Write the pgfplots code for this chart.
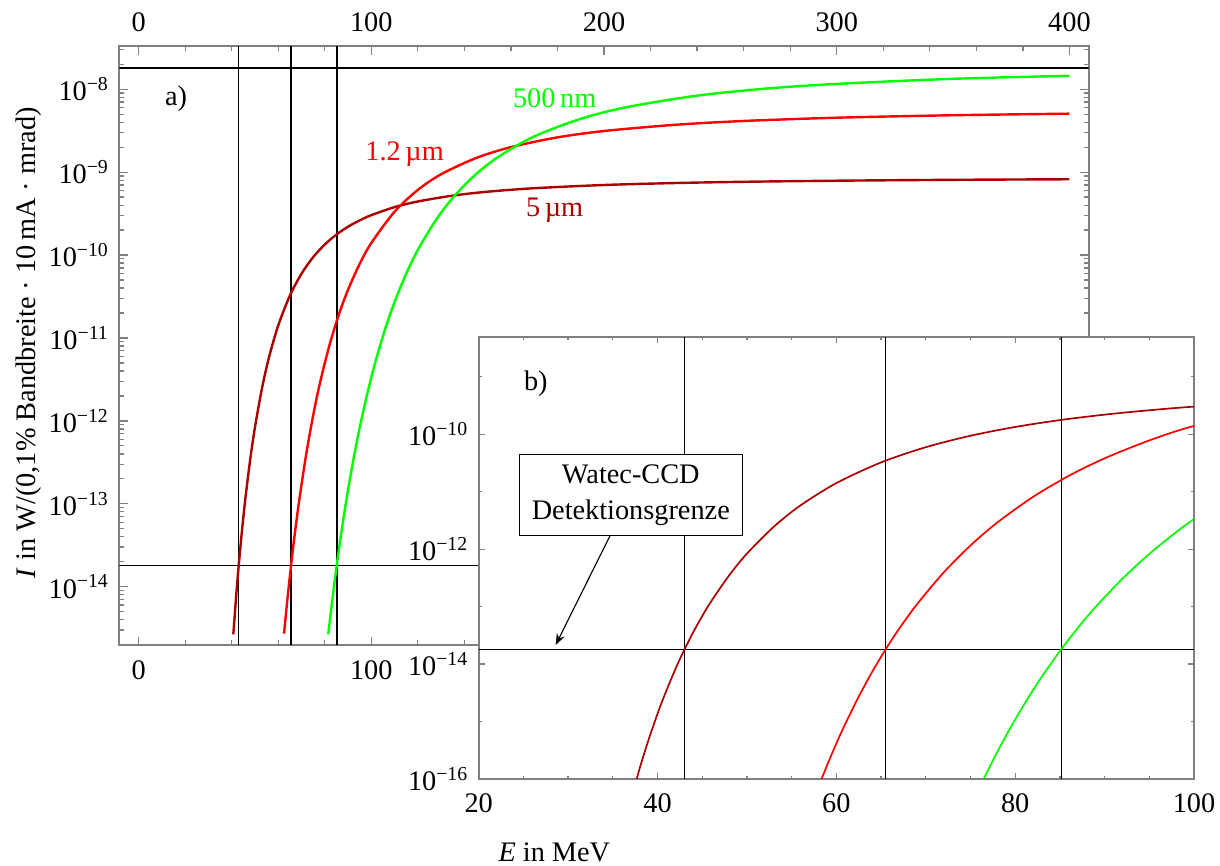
\documentclass[border=0pt]{standalone}
\usepackage{fontspec}
\setmainfont{Liberation Serif}
\usepackage{pgfplots}
\usepackage{pgfplotstable}
\pgfplotsset{compat=1.18}
\usetikzlibrary{arrows.meta}

\definecolor{dkred}{rgb}{0.667,0,0}
\definecolor{lgreen}{rgb}{0,1,0}
\definecolor{framegray}{rgb}{0.5,0.5,0.5}

% 5 um
\pgfplotstableread{
E I
37 4.230e-17
38 1.524e-16
39 4.829e-16
40 1.366e-15
40.7 2.664e-15
42 8.21e-15
43 1.780e-14
44 3.606e-14
45 6.859e-14
46 1.236e-13
48 3.488e-13
50 8.373e-13
53 2.458e-12
56 5.794e-12
60 1.414e-11
65 3.238e-11
70 5.959e-11
75 9.430e-11
80 1.341e-10
85 1.766e-10
90 2.198e-10
95 2.619e-10
100 3.030e-10
110 3.787e-10
120 4.430e-10
135 5.211e-10
150 5.813e-10
170 6.400e-10
200 7.000e-10
230 7.384e-10
260 7.650e-10
300 7.886e-10
350 8.081e-10
400 8.207e-10
}\tabfive

% 1.2 um
\pgfplotstableread{
E I
57 2.764e-17
58 7.266e-17
59 1.790e-16
60 4.157e-16
61 9.138e-16
62.5 2.714e-15
63 3.813e-15
64 7.298e-15
65.5 1.794e-14
67 4.076e-14
69 1.091e-13
72 3.931e-13
75 1.160e-12
78 2.916e-12
82 8.143e-12
86 1.894e-11
90 3.816e-11
95 7.820e-11
100 1.398e-10
110 3.335e-10
120 6.107e-10
130 9.434e-10
145 1.480e-9
160 2.004e-9
180 2.626e-9
200 3.135e-9
230 3.715e-9
260 4.142e-9
300 4.535e-9
350 4.858e-9
400 5.072e-9
}\tabonetwo

% 500 nm
\pgfplotstableread{
E I
75 3.208e-17
76 7.000e-17
77 1.469e-16
78 2.964e-16
79 5.781e-16
80 1.090e-15
81.5 2.665e-15
82 3.537e-15
83 6.107e-15
85 1.689e-14
87 4.261e-14
89 9.908e-14
92 3.068e-13
95 8.274e-13
98 1.982e-12
100 3.351e-12
102 5.459e-12
106 1.294e-11
110 2.714e-11
115 5.963e-11
120 1.155e-10
128 2.713e-10
136 5.274e-10
145 9.451e-10
155 1.557e-9
170 2.695e-9
190 4.400e-9
210 6.100e-9
240 8.370e-9
270 1.020e-8
300 1.160e-8
350 1.336e-8
400 1.453e-8
}\tabfivehundred

\pgfplotsset{
  myframe/.style={
    axis line style={framegray, line width=0.6pt},
    tick style={framegray, line width=0.45pt},
    tick align=inside,
    /pgf/number format/assume math mode=true,
    ticklabel style={black},
    yticklabel={\pgfmathtruncatemacro{\e}{round(abs(\tick))}10\textsuperscript{−\e}},
  }
}

\begin{document}
\begin{tikzpicture}
\useasboundingbox (0,0) rectangle (431.15pt,306.04pt);

% ---------- main plot a) ----------
\begin{axis}[myframe,
  at={(42.16pt,78.1pt)}, anchor=south west, scale only axis,
  width=342.6pt, height=211.6pt,
  xmin=-8.3, xmax=408.3,
  ymode=log, log basis y=10, ymin=1.98e-15, ymax=3.30e-8,
  xtick={0,100,200,300,400}, minor x tick num=4,
  xticklabel style={yshift=-2pt},
  ytick={1e-14,1e-13,1e-12,1e-11,1e-10,1e-9,1e-8},
  minor ytick={3e-15,4e-15,5e-15,6e-15,7e-15,8e-15,9e-15,
    2e-14,3e-14,4e-14,5e-14,6e-14,7e-14,8e-14,9e-14,
    2e-13,3e-13,4e-13,5e-13,6e-13,7e-13,8e-13,9e-13,
    2e-12,3e-12,4e-12,5e-12,6e-12,7e-12,8e-12,9e-12,
    2e-11,3e-11,4e-11,5e-11,6e-11,7e-11,8e-11,9e-11,
    2e-10,3e-10,4e-10,5e-10,6e-10,7e-10,8e-10,9e-10,
    2e-9,3e-9,4e-9,5e-9,6e-9,7e-9,8e-9,9e-9,
    2e-8,3e-8},
  major tick length=3pt, minor tick length=1.7pt,
]
\addplot[black, line width=0.5pt] coordinates {(-8.3,1.8e-8) (408.3,1.8e-8)};
\addplot[black, line width=0.5pt] coordinates {(-8.3,1.8e-14) (408.3,1.8e-14)};
\addplot[black, line width=0.5pt] coordinates {(43,1.98e-15) (43,3.3e-8)};
\addplot[black, line width=0.5pt] coordinates {(65.5,1.98e-15) (65.5,3.3e-8)};
\addplot[black, line width=0.5pt] coordinates {(85.2,1.98e-15) (85.2,3.3e-8)};
\addplot[dkred, line width=0.85pt, smooth, restrict x to domain=40.6:400] table[x=E,y=I] {\tabfive};
\addplot[red, line width=0.85pt, smooth, restrict x to domain=62.4:400] table[x=E,y=I] {\tabonetwo};
\addplot[lgreen, line width=0.85pt, smooth, restrict x to domain=81.4:400] table[x=E,y=I] {\tabfivehundred};
\node[anchor=base] at (axis cs:16.1,6.3e-9) {a)};
\node[anchor=base, text=red] at (axis cs:114.3,1.40e-9) {1.2\,µm};
\node[anchor=base, text=lgreen] at (axis cs:178.8,6.07e-9) {500\,nm};
\node[anchor=base, text=dkred] at (axis cs:178.8,2.90e-10) {5\,µm};
\end{axis}

% ---------- top tick labels of the main plot ----------
\begin{axis}[
  at={(42.16pt,78.1pt)}, anchor=south west, scale only axis,
  width=342.6pt, height=211.6pt,
  xmin=-8.3, xmax=408.3, ymin=0, ymax=1,
  hide y axis, axis x line*=top,
  axis line style={draw=none},
  xtick={0,100,200,300,400},
  major tick length=0pt, minor tick length=0pt,
  /pgf/number format/assume math mode=true,
  xticklabel style={yshift=1.5pt},
]
\end{axis}

% ---------- inset b) ----------
\begin{axis}[myframe,
  at={(169.17pt,30.75pt)}, anchor=south west, scale only axis,
  width=252.8pt, height=156.1pt,
  axis background/.style={fill=white},
  xmin=20, xmax=100,
  ymode=log, log basis y=10, ymin=1e-16, ymax=4.88e-9,
  xtick={20,40,60,80,100}, minor x tick num=3,
  xticklabel style={yshift=-1.5pt},
  ytick={1e-16,1e-14,1e-12,1e-10},
  minor ytick={1e-15,1e-13,1e-11,1e-9},
  major tick length=2.1pt, minor tick length=1.1pt,
]
\addplot[black, line width=0.45pt] coordinates {(20,1.82e-14) (100,1.82e-14)};
\addplot[black, line width=0.45pt] coordinates {(43,1e-16) (43,4.88e-9)};
\addplot[black, line width=0.45pt] coordinates {(65.5,1e-16) (65.5,4.88e-9)};
\addplot[black, line width=0.45pt] coordinates {(85.2,1e-16) (85.2,4.88e-9)};
\addplot[dkred, line width=0.6pt, smooth] table[x=E,y=I] {\tabfive};
\addplot[red, line width=0.6pt, smooth] table[x=E,y=I] {\tabonetwo};
\addplot[lgreen, line width=0.6pt, smooth] table[x=E,y=I] {\tabfivehundred};
\node[anchor=base] at (axis cs:26.39,5.68e-10) {b)};
\draw[black, line width=0.4pt, -{Stealth[length=4pt,width=3pt]}]
  (axis cs:34.69,1.72e-12) -- (axis cs:28.61,2.15e-14);
\node[draw=black, line width=0.4pt, fill=white, align=center,
  minimum width=78.8pt, minimum height=28.8pt, inner sep=2pt,
  font=\fontsize{10}{12.7}\selectfont]
  at (axis cs:37.01,8.77e-12) {Watec-CCD\\Detektionsgrenze};
\end{axis}

% ---------- axis labels ----------
\node[anchor=base] at (195.9pt,1.5pt) {\textit{E} in MeV};
\node[anchor=base, rotate=90] at (12.37pt,185pt) {\textit{I} in W/(0,1\% Bandbreite · 10\,mA · mrad)};
\end{tikzpicture}
\end{document}
